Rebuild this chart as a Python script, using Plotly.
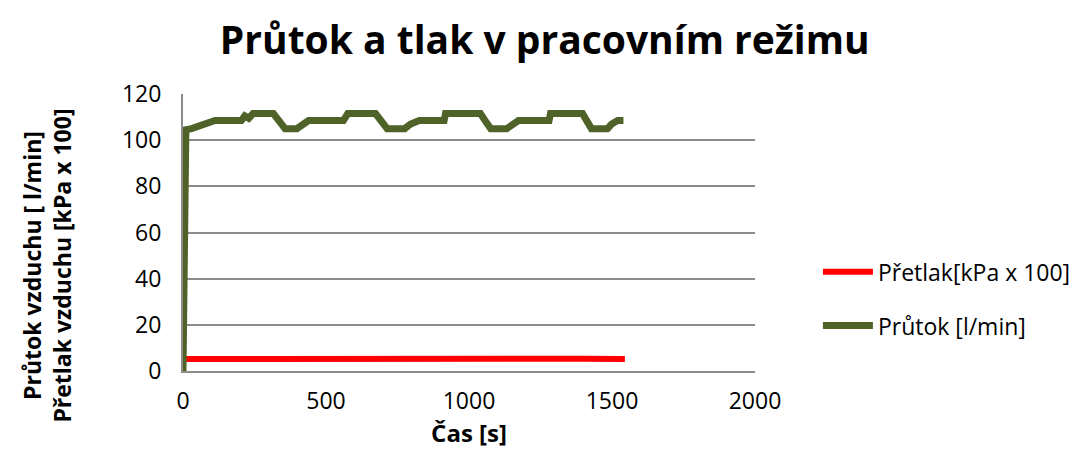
import plotly.graph_objects as go

# ===== DATA =====
flow_t = [0, 2, 10, 30, 60, 92, 112, 204, 216, 230, 245, 316, 337, 357, 398, 418, 439,
          561, 576, 673, 694, 714, 775, 796, 826, 913, 918, 1040, 1056, 1076, 1132,
          1153, 1173, 1280, 1285, 1397, 1413, 1428, 1484, 1499, 1520, 1540]
flow_v = [0, 22, 104.5, 105, 106, 107.5, 108.5, 108.5, 110.5, 109.5, 111.5, 111.5, 108.5, 105, 105, 107, 108.5,
          108.5, 111.5, 111.5, 108.5, 105, 105, 107, 108.5, 108.5, 111.5, 111.5, 108.5, 105, 105,
          107, 108.5, 108.5, 111.5, 111.5, 108.5, 105, 105, 107, 108.5, 108.5]

press_t = [0, 200, 400, 600, 800, 1000, 1200, 1400, 1545]
press_v = [5.2, 5.3, 5.2, 5.3, 5.2, 5.3, 5.2, 5.3, 5.2]

X_TICKS = [0, 500, 1000, 1500, 2000]
Y_TICKS = [0, 20, 40, 60, 80, 100, 120]

RED = '#FF0000'
OLIVE = '#4F6228'
GRID = '#8C8C8C'
FONT = 'Open Sans, sans-serif'

fig = go.Figure()
fig.add_trace(go.Scatter(x=press_t, y=press_v, mode='lines', name='Přetlak[kPa x 100]',
                         legendgroup='p', line=dict(color=RED, width=6)))
fig.add_trace(go.Scatter(x=flow_t, y=flow_v, mode='lines', name='Průtok [l/min]',
                         legendgroup='f', line=dict(color=OLIVE, width=7)))

fig.update_layout(
    width=1080, height=461,
    paper_bgcolor='white', plot_bgcolor='white',
    font=dict(family=FONT, color='#000000', size=23),
    margin=dict(l=175, r=331, t=86, b=98),
    title=dict(text='<b>Průtok a tlak v pracovním režimu</b>', x=0.497, xanchor='center',
               y=0.93, yanchor='middle', font=dict(size=39, family=FONT)),
    legend=dict(x=1.11, xanchor='left', y=0.261, yanchor='middle', bgcolor='rgba(0,0,0,0)',
                font=dict(size=23), tracegroupgap=21, itemwidth=50),
    showlegend=True,
)
# y-axis title as an annotation: Excel centres it a bit below the plot middle
fig.add_annotation(text='<b>Průtok vzduchu [ l/min]<br>Přetlak vzduchu [kPa x 100]</b>',
                   xref='paper', yref='paper', x=-0.238, y=0.38, xanchor='center',
                   yanchor='middle', textangle=-90, showarrow=False, font=dict(size=23))
fig.update_xaxes(range=[0, 2000], tickvals=X_TICKS, showgrid=False, zeroline=False,
                 showline=True, linecolor=GRID, linewidth=2, ticks='outside',
                 ticklen=8, tickcolor='rgba(0,0,0,0)',
                 title=dict(text='<b>Čas [s]</b>', font=dict(size=24), standoff=8))
fig.update_yaxes(range=[0, 120], tickvals=Y_TICKS, showgrid=True, gridcolor=GRID, gridwidth=2,
                 zeroline=False, showline=True, linecolor=GRID, linewidth=2, ticks='outside',
                 ticklen=15, tickcolor='rgba(0,0,0,0)')

fig.write_html("out.html")
